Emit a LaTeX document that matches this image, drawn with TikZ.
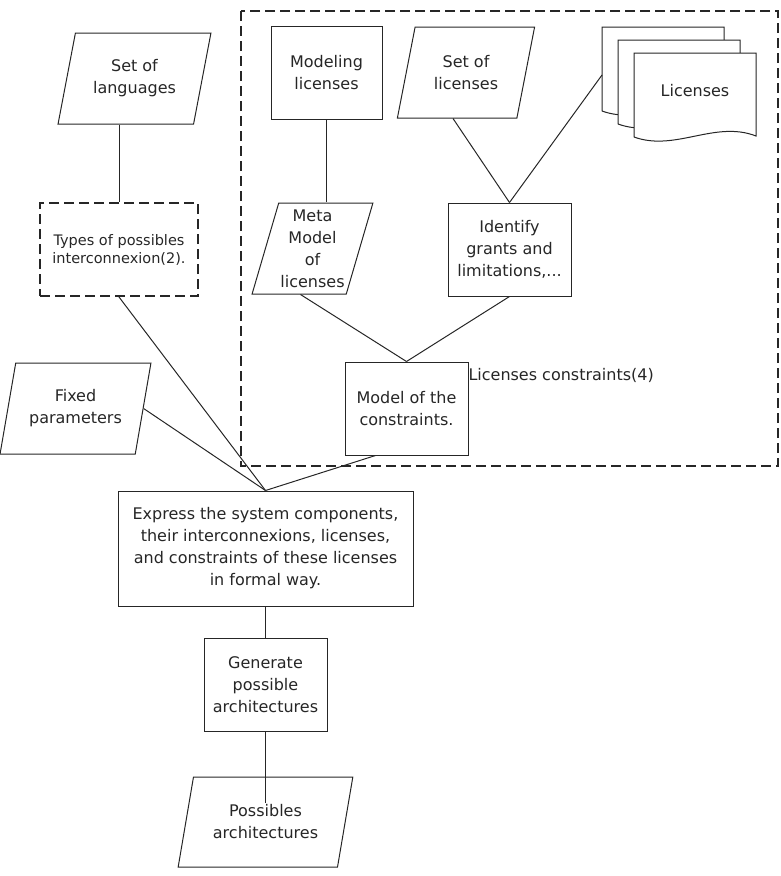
\documentclass[tikz,border=0pt]{standalone}
\usepackage{fontspec}
\setmainfont{DejaVu Sans}
\usetikzlibrary{shapes.geometric, calc}

\begin{document}
\begin{tikzpicture}[x=1pt, y=-1pt, line width=1pt, color=black!85,
	every node/.style={font=\fontsize{16}{22}\selectfont, align=center, inner sep=0pt},
	procbox/.style={draw, rectangle, minimum width=#1, minimum height=93pt},
	procbox/.default=123pt,
	databox/.style={draw, trapezium, trapezium left angle=72, trapezium right angle=108,
		trapezium stretches=true, minimum width=#1, minimum height=91pt},
	bigdash/.style={line width=2pt, dash pattern=on 10pt off 5pt}]
	\useasboundingbox (0,0) rectangle (780,876);
	\draw[bigdash] (241,11) rectangle (778,466);
	\node[databox=153pt] (lang) at (134.5,78.5) {Set of\\languages};
	\node[draw, bigdash, minimum width=158pt, minimum height=93pt, font=\fontsize{14.5}{18}\selectfont] (types) at (119,249.5) {Types of possibles\\interconnexion(2).};
	\node[procbox=111pt] (modeling) at (326.5,73) {Modeling\\licenses};
	\node[databox=121pt] (meta) at (312.5,248.5) {Meta\\Model\\of\\licenses};
	\node[databox=138pt] (setlic) at (466,72.5) {Set of\\licenses};
	\foreach \dx/\dy in {602/27, 618/40, 634/53}
		\filldraw[fill=white] (\dx,\dy+84) -- (\dx,\dy) -- (\dx+122,\dy) -- (\dx+122,\dy+83)
			.. controls (\dx+81,\dy+67) and (\dx+41,\dy+99) .. (\dx,\dy+84);
	\node (lictext) at (695,91) {Licenses};
	\coordinate (licback) at (602,75);
	\node[procbox] (ident) at (509.5,249.5) {Identify\\grants and\\limitations,...};
	\node[procbox] (model) at (406.5,408.5) {Model of the\\constraints.};
	\node[anchor=west] (lcons) at (468,375) {Licenses constraints(4)};
	\node[databox=151pt] (fixed) at (75.5,408.5) {Fixed\\parameters};
	\node[draw, minimum width=295pt, minimum height=115pt] (express) at (265.5,548.5) {Express the system components,\\their interconnexions, licenses,\\and constraints of these licenses\\in formal way.};
	\node[procbox] (gen) at (265.5,684.5) {Generate\\possible\\architectures};
	\node[databox=175pt, minimum height=90pt] (poss) at (265.5,822) {Possibles\\architectures};
	\coordinate (possend) at (265.5,803);
	\coordinate (lang-s) at (types.north |- lang.south);
	\coordinate (meta-n) at (modeling.south |- meta.north);
	\coordinate (meta-s) at ($(meta.south)+(-12,0)$);
	\coordinate (setlic-s) at ($(setlic.south)+(-13,0)$);

	\draw (lang-s) -- (types.north);
	\draw (modeling.south) -- (meta-n);
	\draw (setlic-s) -- (ident.north);
	\draw (licback) -- (ident.north);
	\draw (meta-s) -- (model.north);
	\draw (ident.south) -- (model.north);
	\draw (types.south) -- (express.north);
	\draw (fixed.east) -- (express.north);
	\draw ($(model.south)+(-31,0)$) -- (express.north);
	\draw (express.south) -- (gen.north);
	\draw (gen.south) -- (possend);
\end{tikzpicture}
\end{document}
